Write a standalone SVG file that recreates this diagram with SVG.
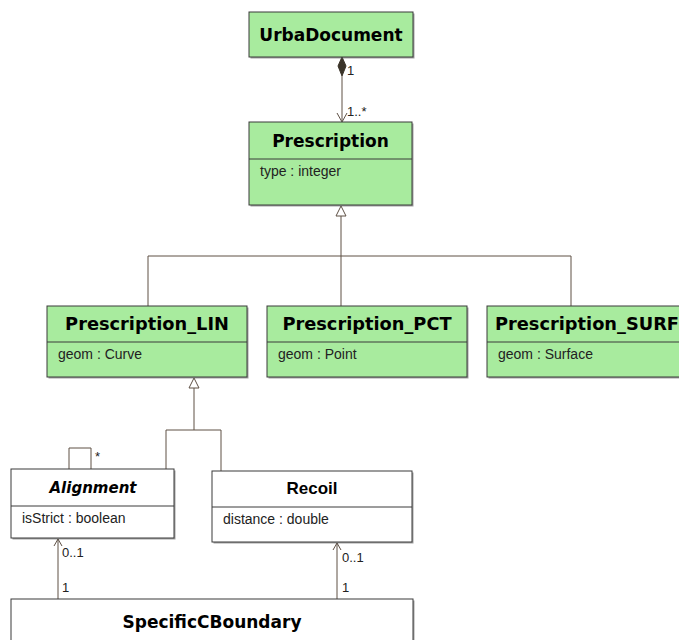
<svg xmlns="http://www.w3.org/2000/svg" width="679" height="640" viewBox="0 0 679 640">
<defs>
<style>
.box{stroke:#3a3a3a;stroke-width:1}
.g{fill:#a8eb9e}
.w{fill:#ffffff}
.sh{fill:#555;opacity:0.55}
.sep{stroke:#3a3a3a;stroke-width:1}
.t{font-family:"DejaVu Sans",Verdana,sans-serif;font-weight:bold;font-size:17px;fill:#000;text-anchor:middle}
.t2{font-size:17.8px}
.a{font-family:"Liberation Sans",Arial,sans-serif;font-size:14px;fill:#222}
.lbl{font-family:"Liberation Sans",Arial,sans-serif;font-size:13px;fill:#222}
.c{stroke:#5e5045;stroke-width:1;fill:none}
</style>
</defs>

<g id="connectors">
<path class="c" d="M342,76 L342,121"/>
<path d="M342,57 L346,66 L342,76 L338,66 Z" fill="#3a3328" stroke="#3a3328"/>
<path d="M337,113 L342,122 L347,113" fill="none" stroke="#5e5045"/>
<text class="lbl" x="347" y="75">1</text>
<text class="lbl" x="347" y="116">1..*</text>

<path d="M341,206 L346,216 L336,216 Z" fill="#fff" stroke="#5e5045"/>
<path class="c" d="M341,216 L341,306 M148,306 L148,256 L571,256 L571,306"/>

<path d="M194,378 L199,388 L189,388 Z" fill="#fff" stroke="#5e5045"/>
<path class="c" d="M194,388 L194,430 M166,469 L166,430 L221,430 L221,471"/>

<path class="c" d="M69,469 L69,448 L91,448 L91,469"/>
<text class="lbl" x="95" y="461">*</text>

<path class="c" d="M58,599 L58,539"/>
<path d="M54,546 L58,539 L62,546" fill="none" stroke="#5e5045"/>
<text class="lbl" x="62" y="557">0..1</text>
<text class="lbl" x="62" y="592">1</text>

<path class="c" d="M337,599 L337,543"/>
<path d="M333,550 L337,543 L341,550" fill="none" stroke="#5e5045"/>
<text class="lbl" x="342" y="562">0..1</text>
<text class="lbl" x="342" y="592">1</text>
</g>

<g id="UrbaDocument">
<rect class="sh" x="250.5" y="13.5" width="164" height="45"/>
<rect class="box g" x="249" y="12" width="164" height="45"/>
<text class="t" x="331" y="41">UrbaDocument</text>
</g>

<g id="Prescription">
<rect class="sh" x="250.5" y="123.5" width="163" height="83"/>
<rect class="box g" x="249" y="122" width="163" height="83"/>
<line class="sep" x1="249" y1="159" x2="412" y2="159"/>
<text class="t" x="330.5" y="147">Prescription</text>
<text class="a" x="260" y="176">type : integer</text>
</g>

<g id="Prescription_LIN">
<rect class="sh" x="48.5" y="307.5" width="200" height="71"/>
<rect class="box g" x="47" y="306" width="200" height="71"/>
<line class="sep" x1="47" y1="342" x2="247" y2="342"/>
<text class="t t2" x="147" y="330">Prescription_LIN</text>
<text class="a" x="58" y="359">geom : Curve</text>
</g>

<g id="Prescription_PCT">
<rect class="sh" x="268.5" y="307.5" width="200" height="71"/>
<rect class="box g" x="267" y="306" width="200" height="71"/>
<line class="sep" x1="267" y1="342" x2="467" y2="342"/>
<text class="t t2" x="367" y="330">Prescription_PCT</text>
<text class="a" x="278" y="359">geom : Point</text>
</g>

<g id="Prescription_SURF">
<rect class="sh" x="488.5" y="307.5" width="200" height="71"/>
<rect class="box g" x="487" y="306" width="200" height="71"/>
<line class="sep" x1="487" y1="342" x2="687" y2="342"/>
<text class="t t2" x="587" y="330">Prescription_SURF</text>
<text class="a" x="498" y="359">geom : Surface</text>
</g>

<g id="Alignment">
<rect class="sh" x="12.5" y="470.5" width="163" height="69"/>
<rect class="box w" x="11" y="469" width="163" height="69"/>
<line class="sep" x1="11" y1="506" x2="174" y2="506"/>
<text class="t" x="93" y="493" style="font-style:oblique;font-size:15px">Alignment</text>
<text class="a" x="22" y="523">isStrict : boolean</text>
</g>

<g id="Recoil">
<rect class="sh" x="213.5" y="472.5" width="200" height="71"/>
<rect class="box w" x="212" y="471" width="200" height="71"/>
<line class="sep" x1="212" y1="507" x2="412" y2="507"/>
<text class="t" x="312" y="494" style="font-family:'Liberation Sans',Arial,sans-serif;font-size:17px">Recoil</text>
<text class="a" x="223" y="524">distance : double</text>
</g>

<g id="SpecificCBoundary">
<rect class="sh" x="12.5" y="600.5" width="402" height="50"/>
<rect class="box w" x="11" y="599" width="402" height="50"/>
<text class="t" x="212" y="628">SpecificCBoundary</text>
</g>
</svg>
